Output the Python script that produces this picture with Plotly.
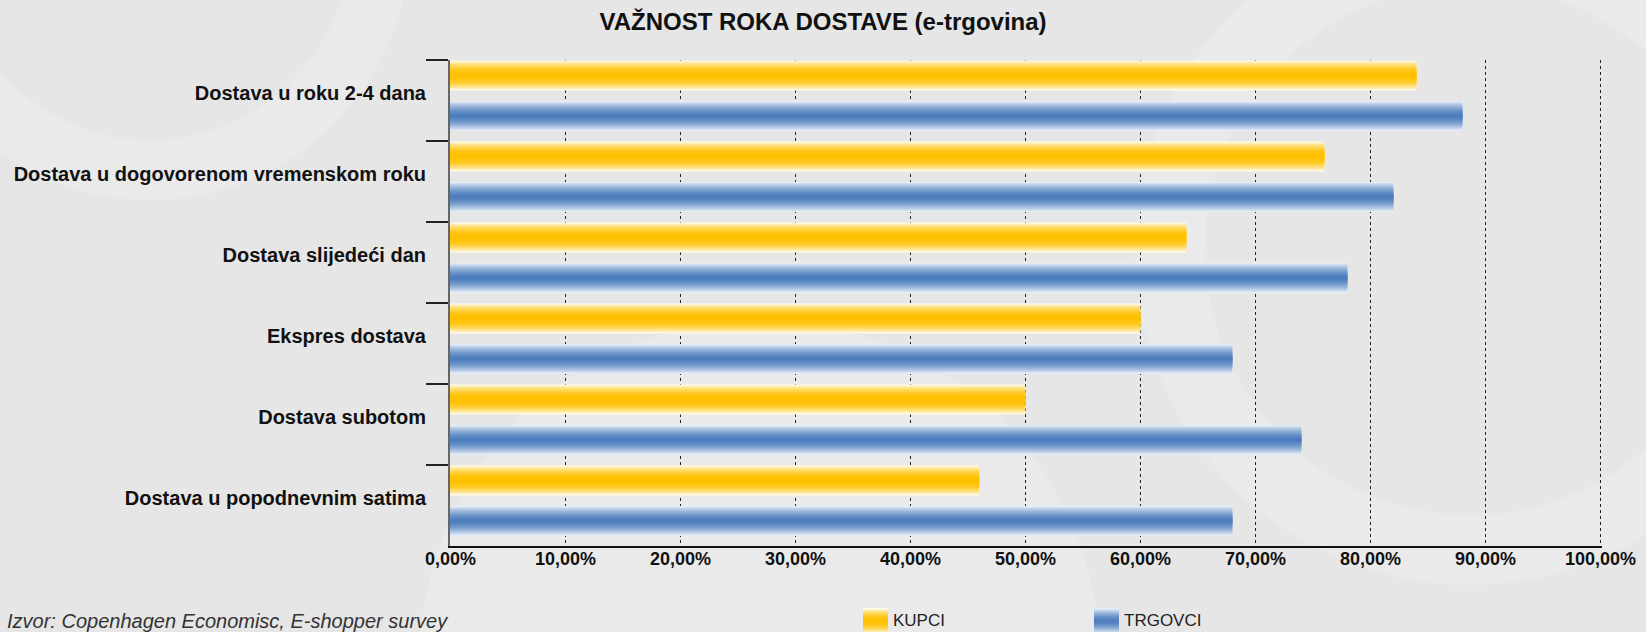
import plotly.graph_objects as go

# ---- data ----
categories = [
    "Dostava u roku 2-4 dana",
    "Dostava u dogovorenom vremenskom roku",
    "Dostava slijedeći dan",
    "Ekspres dostava",
    "Dostava subotom",
    "Dostava u popodnevnim satima",
]
kupci = [84, 76, 64, 60, 50, 46]
trgovci = [88, 82, 78, 68, 74, 68]
tick_vals = [0, 10, 20, 30, 40, 50, 60, 70, 80, 90, 100]
tick_text = ["0,00%", "10,00%", "20,00%", "30,00%", "40,00%", "50,00%",
             "60,00%", "70,00%", "80,00%", "90,00%", "100,00%"]
series = [("KUPCI", kupci), ("TRGOVCI", trgovci)]

# ---- style ----
W, H = 1646, 632
BG = "#e6e6e6"
styles = {
    "KUPCI": dict(center=(255, 192, 0), edge=(255, 250, 228), pos=-0.31, power=2.2,
                  legend_x=863),
    "TRGOVCI": dict(center=(74, 124, 188), edge=(228, 236, 247), pos=0.19, power=1.6,
                    legend_x=1094),
}
BAR_W = 0.37
N_LAYERS = 14
ML, MR, MT, MB = 450, 44, 60, 86
pw, ph = W - ML - MR, H - MT - MB


def mix(c1, c2, t):
    return "rgb(%d,%d,%d)" % tuple(round(a + (b - a) * t) for a, b in zip(c1, c2))


def px_x(x):  # figure pixel -> paper fraction
    return (x - ML) / pw


def px_y(y):  # figure pixel (from top) -> paper fraction
    return (H - MB - y) / ph


fig = go.Figure()
shapes = []
annotations = []

# faint background watermark swirls
for (cx, cy, r, lw) in [(760, 660, 340, 0), (1470, 250, 300, 70), (150, -60, 230, 60)]:
    base = dict(type="circle", xref="paper", yref="paper", layer="below",
                x0=px_x(cx - r), x1=px_x(cx + r), y0=px_y(cy + r), y1=px_y(cy - r))
    if lw == 0:
        base.update(line=dict(width=0), fillcolor="#eaeaea")
    else:
        base.update(line=dict(width=lw, color="#eaeaea"), fillcolor="rgba(0,0,0,0)")
    shapes.append(base)

for name, vals in series:
    st = styles[name]
    for k in range(N_LAYERS):
        h = 1 - k / N_LAYERS
        w = BAR_W * h
        col = mix(st["center"], st["edge"], h ** st["power"])
        fig.add_trace(go.Bar(
            y=categories, x=vals, orientation="h",
            width=w, offset=st["pos"] - w / 2,
            marker=dict(color=col, line=dict(width=0)),
            name=name, legendgroup=name, showlegend=False,
            hoverinfo="x+y",
        ))
    # custom legend swatch (gradient square) + label
    lx = st["legend_x"]
    top, bot = 608, 634
    n = 8
    mid = (top + bot) / 2
    for k in range(n):
        h = 1 - k / n
        half = (bot - top) / 2 * h
        col = mix(st["center"], st["edge"], h ** st["power"])
        shapes.append(dict(type="rect", xref="paper", yref="paper", layer="above",
                           x0=px_x(lx), x1=px_x(lx + 25),
                           y0=px_y(mid + half), y1=px_y(mid - half),
                           line=dict(width=0), fillcolor=col))
    annotations.append(dict(text=name, xref="paper", yref="paper",
                            x=px_x(lx + 28), y=px_y(620), xanchor="left",
                            yanchor="middle", showarrow=False,
                            font=dict(size=17, color="#222")))

# x tick labels, placed through the x axis scale
for v, t in zip(tick_vals, tick_text):
    annotations.append(dict(text=t, xref="x", yref="paper", x=v, y=px_y(559),
                            xanchor="center", yanchor="middle", showarrow=False,
                            font=dict(size=18, color="#111", weight="bold")))

annotations.append(dict(
    text="Izvor: Copenhagen Economisc, E-shopper survey",
    xref="paper", yref="paper", x=px_x(5), y=px_y(621),
    xanchor="left", yanchor="middle", showarrow=False,
    font=dict(size=20, color="#333", style="italic"),
))

fig.update_layout(
    width=W, height=H,
    paper_bgcolor=BG, plot_bgcolor="rgba(0,0,0,0)",
    barmode="overlay", showlegend=False,
    margin=dict(l=ML, r=MR, t=MT, b=MB, autoexpand=False),
    font=dict(family="Liberation Sans, Arial, sans-serif", color="#111"),
    title=dict(
        text="VAŽNOST ROKA DOSTAVE (e-trgovina)",
        x=0.5, xref="container", xanchor="center",
        y=1 - 22 / H, yref="container", yanchor="middle",
        font=dict(size=24, color="#111", weight="bold"),
    ),
    xaxis=dict(
        range=[0, 100.15], tickvals=tick_vals, showticklabels=False,
        showgrid=True, gridcolor="#222", griddash="dot", gridwidth=1,
        zeroline=False, showline=True, linecolor="#111", linewidth=1.5,
        ticks="", automargin=False, fixedrange=True,
    ),
    yaxis=dict(
        type="category", categoryorder="array", categoryarray=categories,
        range=[5.5, -0.5],
        showline=True, linecolor="#666", linewidth=2,
        ticks="outside", tickson="boundaries", ticklen=22, tickwidth=1.5,
        tickcolor="#222", showgrid=False, ticklabelstandoff=18,
        ticklabelshift=8,
        tickfont=dict(size=20, color="#111", weight="bold"),
        automargin=False, fixedrange=True,
    ),
    shapes=shapes,
    annotations=annotations,
)

fig.write_html(
    "out.html",
    config={"displayModeBar": False},
    post_script="document.body.style.margin='0';document.body.style.overflow='hidden';",
)
